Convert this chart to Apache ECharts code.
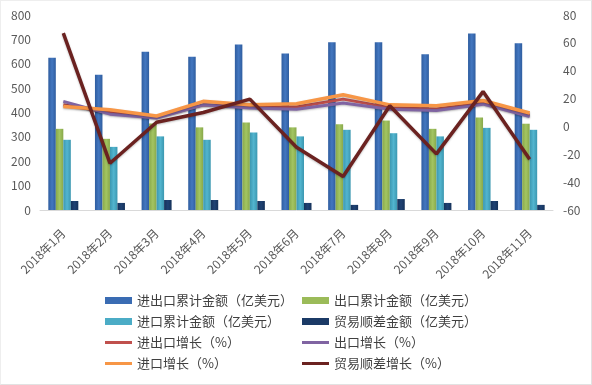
<!DOCTYPE html>
<html>
<head>
<meta charset="utf-8">
<script src="https://cdn.jsdelivr.net/npm/echarts@6/dist/echarts.min.js"></script>
<style>
html,body{margin:0;padding:0;background:#fff;}
#wrap{position:absolute;left:0;top:0;width:590px;height:383px;border:1px solid #e2e2e2;border-top-color:#eee;border-left-color:#eee;}
#chart{position:absolute;left:0;top:0;width:592px;height:385px;}
</style>
</head>
<body>
<div id="wrap"></div>
<div id="chart"></div>
<script>
const categories = ['2018年1月','2018年2月','2018年3月','2018年4月','2018年5月','2018年6月','2018年7月','2018年8月','2018年9月','2018年10月','2018年11月'];
const totalTrade = [625, 555, 649, 629, 679, 642, 688, 688, 639, 724, 684];
const exportAmt  = [333, 292, 355, 339, 359, 339, 352, 367, 333, 380, 354];
const importAmt  = [288, 259, 302, 288, 318, 302, 329, 315, 302, 337, 329];
const surplusAmt = [37, 29, 41, 41, 37, 29, 21, 45, 29, 37, 21];
const totalGrowth   = [15.5, 10, 6.5, 15.5, 14, 14, 19.6, 13.5, 12.5, 16.8, 8];
const exportGrowth  = [18, 8.8, 6, 15.5, 13.2, 12.4, 16.8, 12.4, 11.5, 16, 7.1];
const importGrowth  = [14.3, 12, 7.5, 18, 15.5, 16.3, 22.7, 15.5, 14.8, 18.6, 9.6];
const surplusGrowth = [67, -26.4, 3, 10, 19.6, -15, -36, 14.8, -19.7, 25, -23.5];
const leftTicks = [0, 800, 100];
const rightTicks = [-60, 80, 20];
const names = ['进出口累计金额（亿美元）','出口累计金额（亿美元）','进口累计金额（亿美元）','贸易顺差金额（亿美元）',
               '进出口增长（%）','出口增长（%）','进口增长（%）','贸易顺差增长（%）'];

const FONT = '"Noto Sans CJK SC", sans-serif';
function grad(edge, mid) {
  return new echarts.graphic.LinearGradient(0, 0, 1, 0, [
    {offset: 0, color: edge}, {offset: 0.5, color: mid}, {offset: 1, color: edge}
  ]);
}
const barColors = [grad('#2f5d9f', '#4377c0'), grad('#88a84a', '#a3c562'), grad('#3b97b0', '#52b5cf'), grad('#15325a', '#1f4273')];
const barSolid = ['#3a6cb3', '#9bbb59', '#4bacc6', '#1b3a66'];
const lineColors = ['#c0504d', '#8064a2', '#f79646', '#6b2220'];
const lineWidths = [3, 3, 3.5, 3.5];
const barData = [totalTrade, exportAmt, importAmt, surplusAmt];
const lineData = [totalGrowth, exportGrowth, importGrowth, surplusGrowth];

const series = [];
barData.forEach((d, i) => {
  series.push({
    name: names[i], type: 'bar', yAxisIndex: 0, data: d,
    barWidth: 7.5, barGap: '0%',
    itemStyle: {color: barColors[i]},
    z: 2
  });
});
lineData.forEach((d, i) => {
  series.push({
    name: names[4 + i], type: 'line', yAxisIndex: 1, data: d,
    symbol: 'none', smooth: false,
    lineStyle: {color: lineColors[i], width: lineWidths[i], shadowColor: 'rgba(0,0,0,0.25)', shadowBlur: 2, shadowOffsetY: 1},
    itemStyle: {color: lineColors[i]},
    z: 3 + i
  });
});

const legendPos = [
  [105, 302], [302, 302],
  [105, 323], [302, 323],
  [105, 344], [302, 344],
  [105, 365], [302, 365]
];
const legends = names.map((n, i) => ({
  show: true,
  left: legendPos[i][0],
  top: legendPos[i][1] - 8,
  data: [{name: n, icon: 'rect', itemStyle: {color: i < 4 ? barSolid[i] : lineColors[i - 4]}}],
  itemWidth: 27,
  itemHeight: i < 4 ? 7 : 3,
  padding: 0,
  selectedMode: false,
  textStyle: {fontSize: 13, color: '#404040', fontFamily: FONT}
}));

const chart = echarts.init(document.getElementById('chart'), null, {renderer: 'canvas'});
chart.setOption({
  animation: false,
  backgroundColor: 'transparent',
  textStyle: {fontFamily: FONT},
  grid: {left: 40, right: 39, top: 15, bottom: 175},
  legend: legends,
  xAxis: {
    type: 'category', data: categories,
    axisLine: {lineStyle: {color: '#d9d9d9', width: 1}},
    axisTick: {show: false},
    axisLabel: {rotate: 45, fontSize: 12, color: '#595959', margin: 21, fontFamily: FONT, interval: 0, padding: [0, 0, 0, 0]}
  },
  yAxis: [
    {
      type: 'value', min: leftTicks[0], max: leftTicks[1], interval: leftTicks[2],
      axisLine: {show: false}, axisTick: {show: false}, splitLine: {show: false},
      axisLabel: {fontSize: 12, color: '#595959', margin: 9, fontFamily: FONT}
    },
    {
      type: 'value', min: rightTicks[0], max: rightTicks[1], interval: rightTicks[2],
      axisLine: {show: false}, axisTick: {show: false}, splitLine: {show: false},
      axisLabel: {fontSize: 12, color: '#595959', margin: 10, fontFamily: FONT}
    }
  ],
  series: series
});
</script>
</body>
</html>
